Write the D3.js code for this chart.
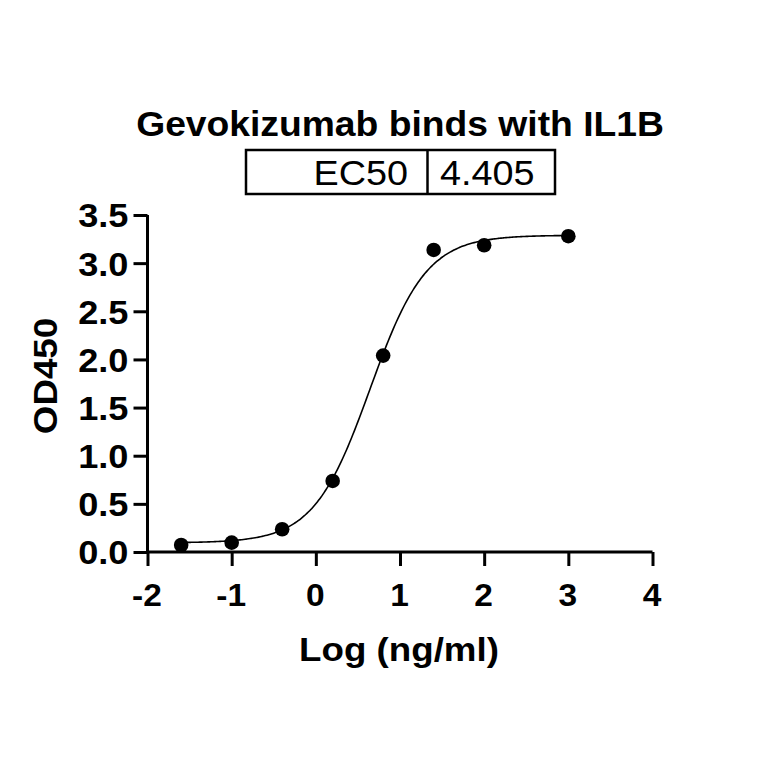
<!DOCTYPE html>
<html><head><meta charset="utf-8">
<script src="https://cdn.jsdelivr.net/npm/d3@7"></script>
<style>body{margin:0;background:#fff}svg{display:block}text{font-family:"Liberation Sans",Arial,sans-serif;fill:#000}</style>
</head><body><svg id="c" width="764" height="764"></svg>
<script>
const logConc = [-1.6, -1.0, -0.4, 0.2, 0.8, 1.4, 2.0, 3.0];
const od450 = [0.073, 0.097, 0.236, 0.738, 2.04, 3.137, 3.186, 3.28];
const fitBottom = 0.095, fitTop = 3.29, fitHill = 1.3, ec50 = 4.405;
const xTicks = [-2, -1, 0, 1, 2, 3, 4];
const yTicks = [0, 0.5, 1.0, 1.5, 2.0, 2.5, 3.0, 3.5];
const title = "Gevokizumab binds with IL1B";
const SX = 1.08; // horizontal stretch of the reference lettering

const svg = d3.select("#c");
const x = d3.scaleLinear().domain([-2, 4]).range([147.5, 652.5]);
const y = d3.scaleLinear().domain([0, 3.5]).range([552, 215]);

const yAxis = d3.axisLeft(y).tickValues(yTicks).tickFormat(d3.format(".1f")).tickSize(14).tickPadding(0);
const xAxis = d3.axisBottom(x).tickValues(xTicks).tickFormat(d => d).tickSize(14).tickPadding(0);

const gy = svg.append("g").attr("transform", `translate(${x(-2)},0)`).call(yAxis);
const gx = svg.append("g").attr("transform", `translate(0,${y(0)})`).call(xAxis);
[gx, gy].forEach(g => {
  g.select(".domain").attr("stroke", "#000").attr("stroke-width", 3);
  g.selectAll(".tick line").attr("stroke", "#000").attr("stroke-width", 3);
  g.selectAll(".tick text").attr("font-family", "Liberation Sans, Arial, sans-serif")
    .attr("font-weight", "bold").attr("fill", "#000");
});
gy.select(".domain").attr("d", `M0,${y(3.5)}V${y(0)}`);
gx.select(".domain").attr("d", `M${x(-2)},0H${x(4)}`);
gy.selectAll(".tick text").attr("font-size", 33.5).attr("x", 0).attr("dy", "0.355em")
  .attr("transform", `translate(-19,0) scale(${SX},1)`);
gx.selectAll(".tick text").attr("font-size", 31).attr("y", 0).attr("dy", 0)
  .attr("transform", `translate(-1,54) scale(${SX},1)`);

// fitted 4PL curve
const logEC = Math.log10(ec50);
const fx = d3.range(-1.6, 3.0001, 0.02);
const curve = fx.map(v => [v, fitBottom + (fitTop - fitBottom) / (1 + Math.pow(10, (logEC - v) * fitHill))]);
svg.append("path").datum(curve)
  .attr("d", d3.line().x(d => x(d[0])).y(d => y(d[1])).curve(d3.curveBasis))
  .attr("fill", "none").attr("stroke", "#000").attr("stroke-width", 1.6);

svg.selectAll("circle.pt").data(logConc).join("circle").attr("class", "pt")
  .attr("cx", d => x(d)).attr("cy", (d, i) => y(od450[i])).attr("r", 7.3).attr("fill", "#000");

function txt(px, py, s, size, weight, anchor, rot) {
  return svg.append("text")
    .attr("transform", `translate(${px},${py})${rot ? " rotate(" + rot + ")" : ""} scale(${SX},1)`)
    .attr("text-anchor", anchor).attr("font-weight", weight).attr("font-size", size).text(s);
}

// title
txt(400, 136, title, 34.5, "bold", "middle");

// EC50 table
const tb = svg.append("g");
tb.append("rect").attr("x", 246).attr("y", 150).attr("width", 309).attr("height", 44)
  .attr("fill", "none").attr("stroke", "#000").attr("stroke-width", 2.5);
tb.append("line").attr("x1", 427.5).attr("x2", 427.5).attr("y1", 150).attr("y2", 194)
  .attr("stroke", "#000").attr("stroke-width", 2.5);
txt(408, 185, "EC50", 35, "normal", "end");
txt(440, 185, ec50.toFixed(3), 35, "normal", "start");

// axis titles
txt(399, 661, "Log (ng/ml)", 34, "bold", "middle");
txt(57, 376, "OD450", 34, "bold", "middle", -90);
</script></body></html>
